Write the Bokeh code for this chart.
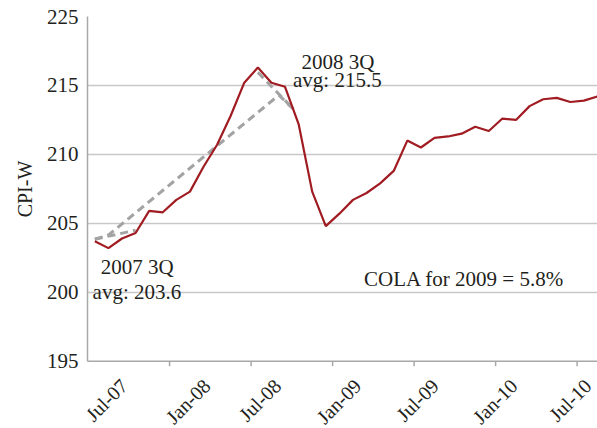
import numpy as np
from bokeh.plotting import figure
from bokeh.models import FixedTicker, Label, Range1d, Span, Title
from bokeh.embed import file_html
from bokeh.resources import INLINE

# ---- data ----
months = ["Jul-07", "Aug-07", "Sep-07", "Oct-07", "Nov-07", "Dec-07",
          "Jan-08", "Feb-08", "Mar-08", "Apr-08", "May-08", "Jun-08",
          "Jul-08", "Aug-08", "Sep-08", "Oct-08", "Nov-08", "Dec-08",
          "Jan-09", "Feb-09", "Mar-09", "Apr-09", "May-09", "Jun-09",
          "Jul-09", "Aug-09", "Sep-09", "Oct-09", "Nov-09", "Dec-09",
          "Jan-10", "Feb-10", "Mar-10", "Apr-10", "May-10", "Jun-10",
          "Jul-10", "Aug-10"]
cpi_w = [203.7, 203.2, 203.9, 204.3, 205.9, 205.8,
         206.7, 207.3, 209.1, 210.7, 212.8, 215.2,
         216.3, 215.2, 214.9, 212.2, 207.3, 204.8,
         205.7, 206.7, 207.2, 207.9, 208.8, 211.0,
         210.5, 211.2, 211.3, 211.5, 212.0, 211.7,
         212.6, 212.5, 213.5, 214.0, 214.1, 213.8,
         213.9, 214.2]

# dashed guide lines (month index, CPI-W)
guide_lower_x = [0, 3]
guide_lower_y = [203.85, 204.5]
guide_upper_x = [0, 1, 13.55, 14.65]
guide_upper_y = [203.85, 204.15, 214.3, 213.25]
guide_peak_x = [12, 14.65]
guide_peak_y = [215.95, 213.25]

x_tick_labels = ["Jul-07", "Jan-08", "Jul-08", "Jan-09", "Jul-09", "Jan-10", "Jul-10"]
x_label_pos = [2.15, 8.25, 13.45, 19.35, 25.05, 30.85, 36.3]
x_tick_marks = [5.5, 11.5, 17.5, 23.5, 29.5, 35.5]
y_ticks = [195, 200, 205, 210, 215, 220]
y_tick_labels = ["195", "200", "205", "210", "215", "225"]

FONT = "Liberation Serif"
TXT = "#231F20"
RED = "#A01C22"
GRAY = "#A3A3A3"
AXIS = "#A8A8A8"

# layout helpers (pixels)
W, H = 597, 428
TOP, LEFT = 16, 87
AXIS_BOTTOM = 360.7            # pixel row of the 195 line
px_per_unit = (AXIS_BOTTOM - TOP) / (y_ticks[-1] - y_ticks[0])
y_start = y_ticks[0] - (H - AXIS_BOTTOM) / px_per_unit   # room below axis for labels
# the y title starts at the frame bottom; lift it so it is centred on 195..220
TITLE_LEN = 57
title_offset = H - (TOP + AXIS_BOTTOM) / 2 - TITLE_LEN / 2

x = np.arange(len(months))

p = figure(width=W, height=H, output_backend="svg", toolbar_location=None,
           x_range=Range1d(-0.54, 37.0), y_range=Range1d(y_start, y_ticks[-1]),
           x_axis_location=None,
           min_border_left=LEFT, min_border_right=0, min_border_top=TOP,
           min_border_bottom=0)
p.outline_line_color = None
p.background_fill_color = "white"

# grid
p.xgrid.grid_line_color = None
p.ygrid.ticker = FixedTicker(ticks=y_ticks[1:])
p.ygrid.grid_line_color = "#C8C8C8"
p.ygrid.grid_line_width = 1.5

# y axis
p.yaxis.ticker = FixedTicker(ticks=y_ticks)
p.yaxis.bounds = (y_ticks[0], y_ticks[-1])
p.yaxis.major_label_overrides = {t: l for t, l in zip(y_ticks, y_tick_labels)}
p.yaxis.major_tick_line_color = None
p.yaxis.minor_tick_line_color = None
p.yaxis.major_tick_out = 0
p.yaxis.major_tick_in = 0
p.yaxis.major_label_standoff = 9
p.yaxis.axis_line_color = AXIS
p.yaxis.axis_line_width = 1.5
p.yaxis.major_label_text_font = FONT
p.yaxis.major_label_text_font_size = "21px"
p.yaxis.major_label_text_color = TXT

p.add_layout(Title(text="CPI-W", align="left", offset=title_offset,
                   standoff=16, text_font=FONT, text_font_size="20px",
                   text_font_style="normal", text_color=TXT), "left")

# x axis line, tick marks and rotated labels
p.add_layout(Span(location=y_ticks[0], dimension="width", line_color=AXIS,
                  line_width=1.5))
tick_len = 5 / px_per_unit
p.segment(x0=x_tick_marks, y0=[y_ticks[0]] * len(x_tick_marks),
          x1=x_tick_marks, y1=[y_ticks[0] - tick_len] * len(x_tick_marks),
          line_color=AXIS, line_width=1.5)
label_y = y_ticks[0] - 21.3 / px_per_unit
for pos, lab in zip(x_label_pos, x_tick_labels):
    p.add_layout(Label(x=pos, y=label_y, text=lab, angle=np.pi / 4,
                       text_align="right", text_baseline="middle",
                       text_font=FONT, text_font_size="20px", text_color=TXT))

# lines
for gx, gy in [(guide_lower_x, guide_lower_y), (guide_upper_x, guide_upper_y),
               (guide_peak_x, guide_peak_y)]:
    p.line(gx, gy, line_color=GRAY, line_width=3, line_dash="8 5")
p.line(x, cpi_w, line_color=RED, line_width=2.2)

# annotations
notes = [
    (17.9, 216.69, "2008 3Q"),
    (17.85, 215.36, "avg: 215.5"),
    (3.12, 201.82, "2007 3Q"),
    (3.1, 200.0, "avg: 203.6"),
    (27.19, 200.98, "COLA for 2009 = 5.8%"),
]
for nx, ny, t in notes:
    p.add_layout(Label(x=nx, y=ny, text=t, text_align="center",
                       text_baseline="alphabetic", text_font=FONT,
                       text_font_size="21px", text_color=TXT))

open("out.html", "w").write(file_html(p, INLINE))
